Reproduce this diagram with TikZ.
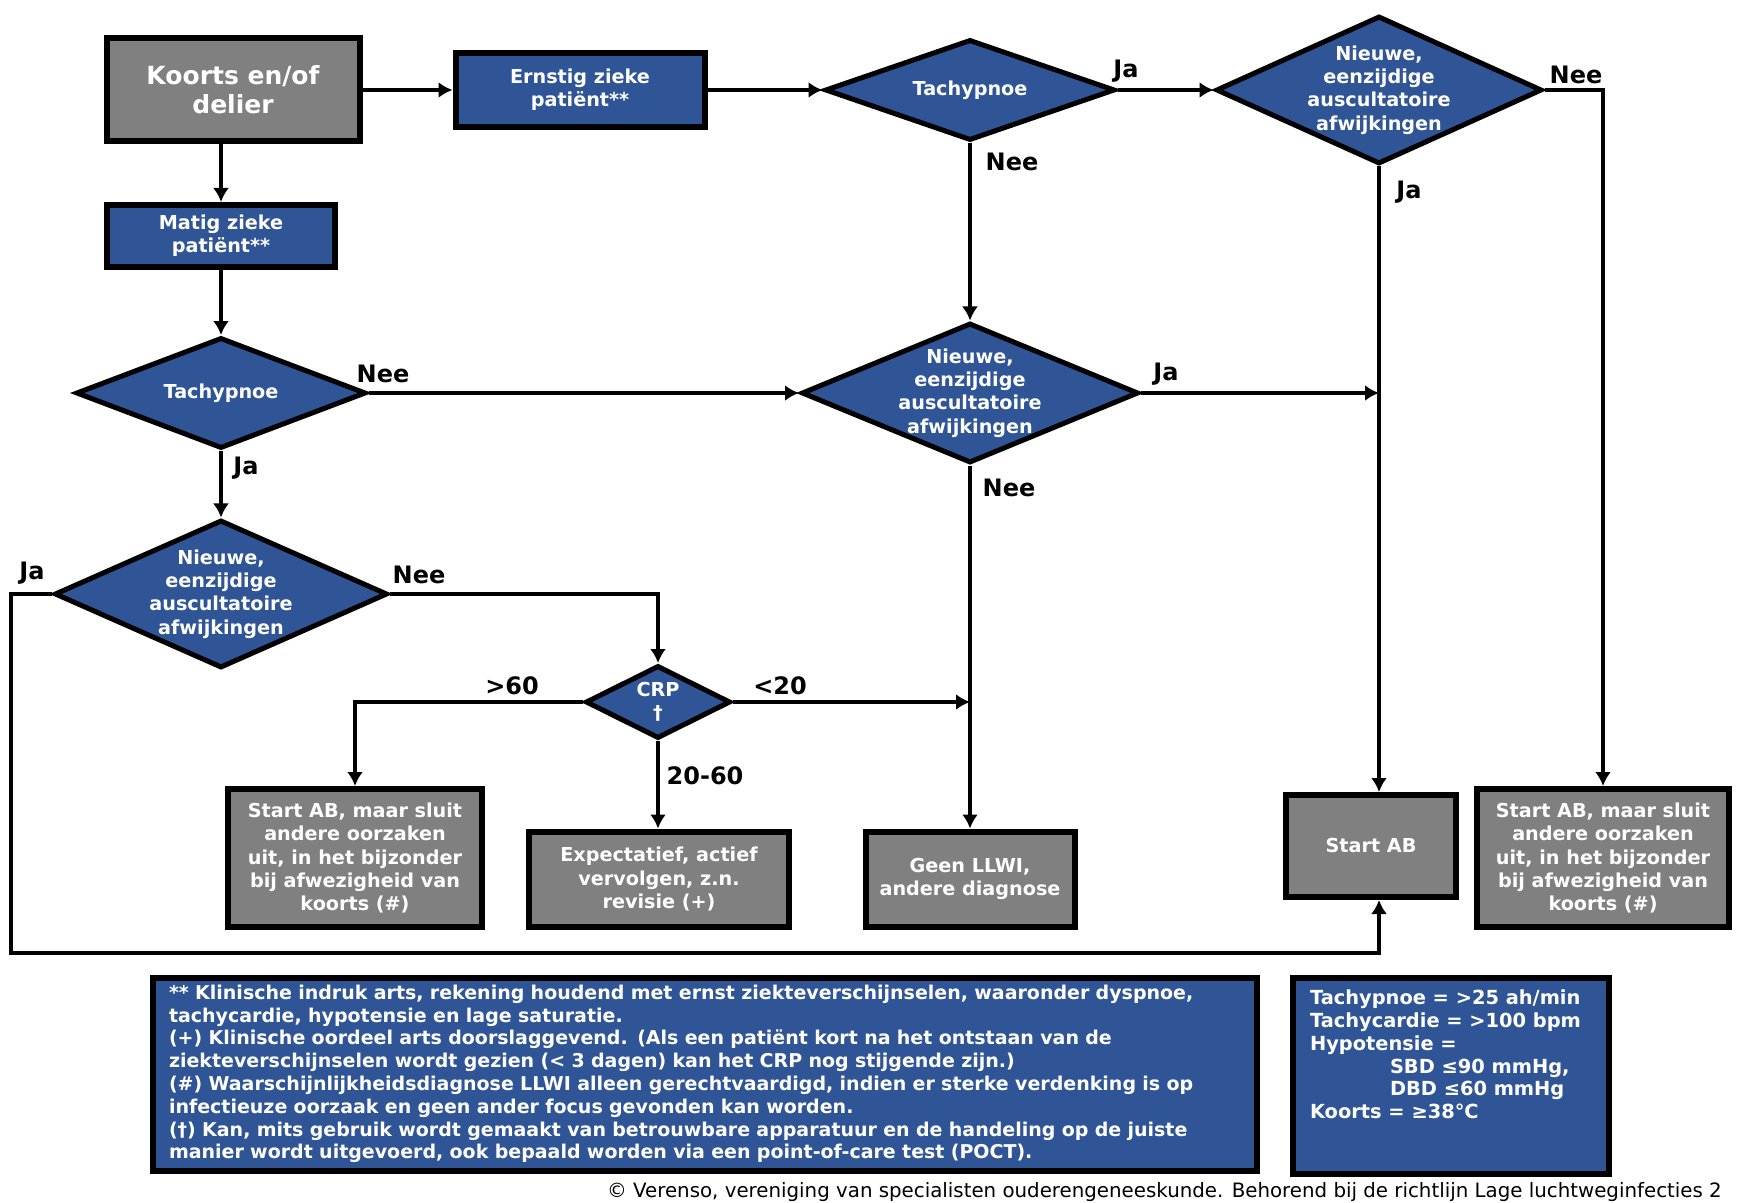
\documentclass[tikz,border=0pt]{standalone}
\usepackage{fontspec}
\setmainfont{DejaVu Sans}
\usetikzlibrary{shapes.geometric,arrows.meta}
\definecolor{vblue}{HTML}{2F5597}
\definecolor{vgrey}{HTML}{808080}
\tikzset{font=\bfseries\fontsize{9.6}{11.6}\selectfont}
\tikzset{
  box/.style={draw, line width=3pt, text=white, align=center, inner sep=2pt},
  bluebox/.style={box, fill=vblue},
  greybox/.style={box, fill=vgrey},
  ask/.style={diamond, draw, line width=2.5pt, fill=vblue, text=white,
    align=center, inner sep=-12pt},
  answer/.style={font=\bfseries\fontsize{12}{14}\selectfont},
  link/.style={line width=2pt, -{Latex[length=7pt,width=8pt]}},
  notebox/.style={draw, line width=3pt, fill=vblue, text=white, inner sep=0pt}
}

\begin{document}
\begin{tikzpicture}[x=0.5pt,y=-0.5pt]
  \useasboundingbox (0,0) rectangle (1738,1203);

  % bovenste rij
  \node[greybox, minimum width=126.5pt, minimum height=51.5pt,
    font=\bfseries\fontsize{12.5}{14.5}\selectfont] (koorts) at (233,90) {Koorts en/of\\delier};
  \node[bluebox, minimum width=124.5pt, minimum height=37pt] (ernstig) at (580,90) {Ernstig zieke\\patiënt**};
  \node[ask, minimum width=145pt, minimum height=50.5pt] (tachyA) at (970,90) {Tachypnoe};
  \node[ask, minimum width=163pt, minimum height=74pt] (nieuwA) at (1379,90) {Nieuwe,\\eenzijdige\\auscultatoire\\afwijkingen};

  % linker kolom
  \node[bluebox, minimum width=114pt, minimum height=31pt] (matig) at (221,236) {Matig zieke\\patiënt**};
  \node[ask, minimum width=145pt, minimum height=55.5pt] (tachyB) at (221,393) {Tachypnoe};
  \node[ask, minimum width=168.5pt, minimum height=70pt] (nieuwM) at (970,393) {Nieuwe,\\eenzijdige\\auscultatoire\\afwijkingen};
  \node[ask, minimum width=166.5pt, minimum height=74pt] (nieuwB) at (221,594) {Nieuwe,\\eenzijdige\\auscultatoire\\afwijkingen};
  \node[ask, minimum width=72.5pt, minimum height=36.5pt] (crp) at (658,702) {CRP\\†};

  % uitkomsten
  \node[greybox, minimum width=127pt, minimum height=69pt] (startL) at (355,858) {Start AB, maar sluit\\andere oorzaken\\uit, in het bijzonder\\bij afwezigheid van\\koorts (\#)};
  \node[greybox, minimum width=130pt, minimum height=47.5pt] (expect) at (659,879) {Expectatief, actief\\vervolgen, z.n.\\revisie (+)};
  \node[greybox, minimum width=104.5pt, minimum height=47.5pt] (geen) at (970,879) {Geen LLWI,\\andere diagnose};
  \node[greybox, minimum width=85pt, minimum height=51pt] (startM) at (1371,846) {Start AB};
  \node[greybox, minimum width=126pt, minimum height=69pt] (startR) at (1603,858) {Start AB, maar sluit\\andere oorzaken\\uit, in het bijzonder\\bij afwezigheid van\\koorts (\#)};

  % pijlen
  \draw[link] (koorts) -- (ernstig);
  \draw[link] (ernstig) -- (tachyA);
  \draw[link] (tachyA) -- (nieuwA);
  \draw[link] (nieuwA.east) -| (startR.north);
  \draw[link] (nieuwA.south) -- (nieuwA.south |- startM.north);
  \draw[link] (tachyA) -- (nieuwM);
  \draw[link] (koorts.south -| matig.north) -- (matig.north);
  \draw[link] (matig) -- (tachyB);
  \draw[link] (tachyB) -- (nieuwM);
  \draw[link] (tachyB) -- (nieuwB);
  \draw[link] (nieuwM.east) -- (nieuwM.east -| nieuwA.south);
  \draw[link] (nieuwM) -- (geen);
  \draw[link] (nieuwB.east) -| (crp.north);
  \coordinate (onder) at (11,953);
  \draw[link] (nieuwB.west) -| (onder) -| (startM.south -| nieuwA.south);
  \draw[link] (crp.east) -- (crp.east -| geen.north);
  \draw[link] (crp.west) -| (startL.north);
  \draw[link] (crp.south) -- (crp.south |- expect.north);

  % antwoorden
  \node[answer] (jaA) at (1126,71) {Ja};
  \node[answer] (neeA) at (1576,75) {Nee};
  \node[answer] (jaB) at (1409,192) {Ja};
  \node[answer] (neeB) at (1012,162) {Nee};
  \node[answer] (neeC) at (383,374) {Nee};
  \node[answer] (jaC) at (246,468) {Ja};
  \node[answer] (jaD) at (1166,374) {Ja};
  \node[answer] (neeD) at (1009,488) {Nee};
  \node[answer] (neeE) at (419,575) {Nee};
  \node[answer] (jaE) at (32,573) {Ja};
  \node[answer] (boven) at (512,686) {>60};
  \node[answer] (laag) at (780,686) {<20};
  \node[answer] (midden) at (705,776) {20-60};

  % toelichting
  \node[notebox, text width=536pt, inner xsep=8pt, minimum height=96.5pt, align=left,
    font=\bfseries\fontsize{9.5}{11.4}\selectfont] (noten) at (705,1074)
    {** Klinische indruk arts, rekening houdend met ernst ziekteverschijnselen, waaronder dyspnoe,\\
     tachycardie, hypotensie en lage saturatie.\\
     (+) Klinische oordeel arts doorslaggevend. (Als een patiënt kort na het ontstaan van de\\
     ziekteverschijnselen wordt gezien (< 3 dagen) kan het CRP nog stijgende zijn.)\\
     (\#) Waarschijnlijkheidsdiagnose LLWI alleen gerechtvaardigd, indien er sterke verdenking is op\\
     infectieuze oorzaak en geen ander focus gevonden kan worden.\\
     (†) Kan, mits gebruik wordt gemaakt van betrouwbare apparatuur en de handeling op de juiste\\
     manier wordt uitgevoerd, ook bepaald worden via een point-of-care test (POCT).};
  \node[notebox, minimum width=158pt, minimum height=98pt,
    font=\bfseries\fontsize{9.7}{11.4}\selectfont] (waarden) at (1451,1076)
    {\begin{minipage}[c][86pt][t]{141pt}
     Tachypnoe = >25 ah/min\\
     Tachycardie = >100 bpm\\
     Hypotensie =\\
     \hspace*{40pt}SBD ≤90 mmHg,\\
     \hspace*{40pt}DBD ≤60 mmHg\\
     Koorts = ≥38°C
     \end{minipage}};

  \node[anchor=base west, font=\fontsize{9.9}{12}\selectfont] (bron) at (600,1197)
    {© Verenso, vereniging van specialisten ouderengeneeskunde. Behorend bij de richtlijn Lage luchtweginfecties 2};
\end{tikzpicture}
\end{document}
